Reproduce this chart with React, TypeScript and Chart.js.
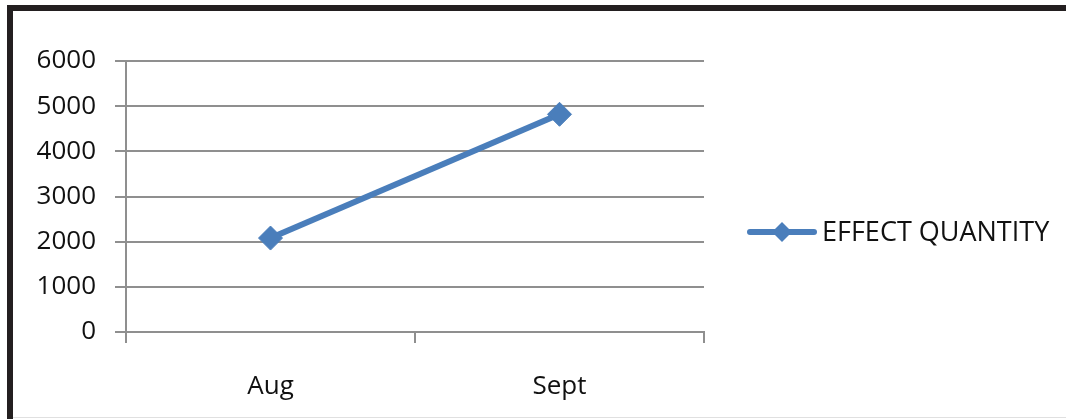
import React, { useEffect, useRef } from "react";
import { Chart, registerables } from "chart.js";

Chart.register(...registerables);

const categories = ["Aug", "Sept"];
const effectQuantity = [2080, 4820];
const seriesName = "EFFECT QUANTITY";
const yTicks = [0, 1000, 2000, 3000, 4000, 5000, 6000];

const LINE_COLOR = "#4a7ebb";
const GRID_COLOR = "#8f8f8f";
const FONT = "'Open Sans', 'DejaVu Sans', sans-serif";

const legendPlugin = {
  id: "customLegend",
  afterDraw(chart: any) {
    const ctx = chart.ctx;
    const ds = chart.data.datasets[0];
    const y = 232;
    ctx.save();
    ctx.strokeStyle = ds.borderColor;
    ctx.lineWidth = 6;
    ctx.lineCap = "round";
    ctx.beginPath();
    ctx.moveTo(750, y);
    ctx.lineTo(814, y);
    ctx.stroke();
    ctx.fillStyle = ds.pointBackgroundColor;
    ctx.beginPath();
    const cx = 782, r = 10;
    ctx.moveTo(cx, y - r);
    ctx.lineTo(cx + r, y);
    ctx.lineTo(cx, y + r);
    ctx.lineTo(cx - r, y);
    ctx.closePath();
    ctx.fill();
    ctx.fillStyle = "#111";
    ctx.font = `27px ${FONT}`;
    ctx.textBaseline = "middle";
    ctx.textAlign = "left";
    ctx.fillText(ds.label, 822, y + 1);
    ctx.restore();
  },
};

export default function App() {
  const ref = useRef<HTMLCanvasElement>(null);
  useEffect(() => {
    if (!ref.current) return;
    const chart = new Chart(ref.current, {
      type: "line",
      data: {
        labels: categories,
        datasets: [
          {
            label: seriesName,
            data: effectQuantity,
            borderColor: LINE_COLOR,
            backgroundColor: LINE_COLOR,
            pointBackgroundColor: LINE_COLOR,
            pointBorderColor: LINE_COLOR,
            borderWidth: 6,
            pointStyle: "rectRot",
            pointRadius: 12,
            pointBorderWidth: 1,
            tension: 0,
          },
        ],
      },
      options: {
        animation: false,
        responsive: false,
        maintainAspectRatio: false,
        layout: { padding: { left: 20, right: 362, top: 61, bottom: 0 } },
        plugins: { legend: { display: false }, tooltip: { enabled: false } },
        scales: {
          x: {
            type: "category",
            offset: true,
            grid: {
              offset: true,
              drawOnChartArea: false,
              drawTicks: true,
              tickLength: 11,
              color: GRID_COLOR,
              lineWidth: 2,
            },
            border: { display: true, color: GRID_COLOR, width: 2 },
            ticks: {
              color: "#111",
              font: { family: FONT, size: 26 },
              padding: 28,
              maxRotation: 0,
            },
            afterFit(scale: any) {
              scale.height = 87;
            },
          },
          y: {
            min: 0,
            max: 6000,
            afterBuildTicks(scale: any) {
              scale.ticks = yTicks.map((v) => ({ value: v }));
            },
            grid: {
              color: GRID_COLOR,
              lineWidth: 2,
              drawTicks: true,
              tickLength: 11,
            },
            border: { display: true, color: GRID_COLOR, width: 2 },
            ticks: {
              color: "#111",
              font: { family: FONT, size: 26 },
              padding: 19,
              callback: (v: any) => String(v),
            },
            afterFit(scale: any) {
              scale.width = 106;
            },
          },
        },
      },
      plugins: [legendPlugin],
    });
    return () => chart.destroy();
  }, []);

  return (
    <div
      style={{
        position: "fixed",
        left: 0,
        top: 0,
        width: 1066,
        height: 419,
        background: "#fff",
        overflow: "hidden",
      }}
    >
      <canvas ref={ref} width={1066} height={419} style={{ position: "absolute", left: 0, top: 0 }} />
      <div style={{ position: "absolute", left: 7, top: 5, width: 1059, height: 6, background: "#231f20" }} />
      <div style={{ position: "absolute", left: 7, top: 5, width: 6, height: 414, background: "#231f20" }} />
      <div style={{ position: "absolute", left: 13, top: 417, width: 1053, height: 1, background: "#e0e0e0" }} />
    </div>
  );
}
